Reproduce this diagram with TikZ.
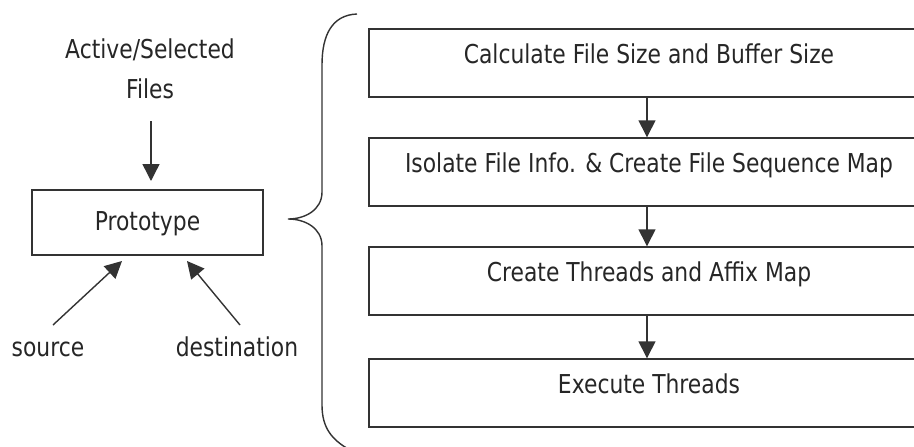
\documentclass[tikz,border=0pt]{standalone}
\usepackage{fontspec}
\setmainfont{DejaVu Sans}[FakeStretch=0.84]
\usetikzlibrary{arrows.meta}
\begin{document}
\begin{tikzpicture}[x=1pt,y=-1pt,
  every node/.style={font=\fontsize{26}{30}\selectfont, text=black!85},
  ln/.style={line width=1.4pt, draw=black!80},
  arr/.style={ln, -{Triangle[length=17pt,width=17pt]}},
  protobox/.style={ln, draw, rectangle, inner sep=0pt, minimum width=231pt,
     text height=40pt, text depth=25pt},
  stepbox/.style={ln, draw, rectangle, inner sep=0pt, minimum width=560pt,
     text height=34pt, text depth=34pt},
  lbl/.style={anchor=base, inner sep=0pt}]
\useasboundingbox (0,0) rectangle (914,447);
\clip (0,0) rectangle (914,447);
\fill[white] (0,0) rectangle (914,447);

% left part
\node[lbl] (act) at (150,58) {Active/Selected};
\node[lbl] (files) at (150,98) {Files};
\node[protobox, anchor=base] (proto) at (147.5,230) {Prototype};
\node[lbl] (src) at (48,356) {source};
\node[lbl] (dst) at (237,356) {destination};

\coordinate (fa) at (151,121);
\coordinate (fb) at (151,181);
\coordinate (sa) at (53,325);
\coordinate (sb) at (122,261);
\coordinate (da) at (240,325);
\coordinate (db) at (187,261);
\draw[arr] (fa) -- (fb);
\draw[arr] (sa) -- (sb);
\draw[arr] (da) -- (db);

% brace
\draw[ln] (357,14) .. controls (332,15) and (322,35) .. (322,65)
  -- (322,192) .. controls (322,210) and (305,219) .. (288,219)
  .. controls (305,219) and (322,228) .. (322,246)
  -- (322,405) .. controls (322,428) and (332,440) .. (350,450);

% right steps
\node[stepbox, anchor=base] (b1) at (649,63) {Calculate File Size and Buffer Size};
\node[stepbox, anchor=base] (b2) at (649,172) {Isolate File Info. \& Create File Sequence Map};
\node[stepbox, anchor=base] (b3) at (649,281) {Create Threads and Affix Map};
\node[stepbox, anchor=base] (b4) at (649,393) {Execute Threads};

\draw[arr] (b1.south -| 647,0) -- (b2.north -| 647,0);
\draw[arr] (b2.south -| 647,0) -- (b3.north -| 647,0);
\draw[arr] (b3.south -| 647,0) -- (b4.north -| 647,0);
\end{tikzpicture}
\end{document}
